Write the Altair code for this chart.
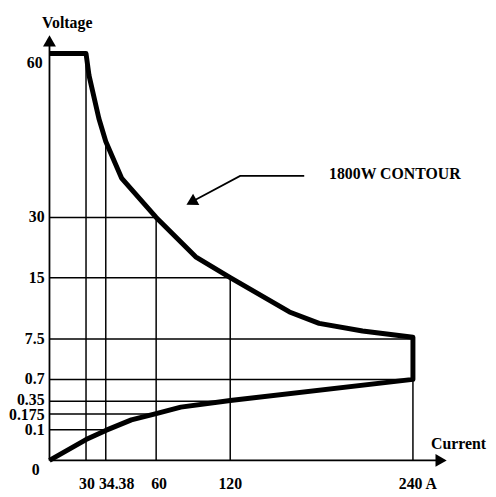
import altair as alt
import pandas as pd

# ---- data ----
# contour: upper (power-limited) branch then lower branch
UPPER_I = [0, 30, 30.66, 32.85, 34.38, 42.4, 60, 92, 120, 158.9, 178.4, 206.9, 240, 240]
UPPER_V = [60, 60, 56.0, 48.1, 43.9, 37.2, 30, 20.2, 15, 10.8, 9.4, 8.47, 7.7, 0.7]
LOWER_I = [240, 120, 80, 60, 47.4, 34.38, 30, 0]
LOWER_V = [0.7, 0.36, 0.269, 0.18, 0.147, 0.098, 0.068, 0]

# non-linear (piecewise) axis breakpoints
X_BREAKS = [0, 30, 34.38, 60, 120, 240]
Y_BREAKS = [0, 0.1, 0.175, 0.35, 0.7, 7.5, 15, 30, 60]

X_TICKS = [30, 34.38, 60, 120, 240]
X_TICK_LABELS = ["30", "34.38", "60", "120", "240 A"]
X_GRID_TOP = [60, 43.9, 30, 15, 7.5]

Y_TICKS = [0.1, 0.175, 0.35, 0.7, 7.5, 15, 30]
Y_TICK_LABELS = ["0.1", "0.175", "0.35", "0.7", "7.5", "15", "30"]
Y_GRID_END = [34.38, 60, 120, 240, 240, 120, 60]

# ---- layout (pixel range of each breakpoint inside the plot area) ----
X_RANGE = [42, 79, 99, 150, 225, 410]
Y_RANGE = [455, 424, 408, 395, 373, 332, 270, 209, 43]
X_LABEL_SHIFT = [1, 11, 3, 0, 5]
Y_LABEL_SHIFT = [0, 1.5, -1.5, 0, 0, 0, 0]

xs = alt.Scale(domain=X_BREAKS, range=X_RANGE, zero=False, nice=False)
ys = alt.Scale(domain=Y_BREAKS, range=Y_RANGE, zero=False, nice=False)

FONT = "Liberation Serif"
FS = 16


def X(f="i"):
    return alt.X(f"{f}:Q", scale=xs, axis=None)


def Y(f="v"):
    return alt.Y(f"{f}:Q", scale=ys, axis=None)


contour = pd.DataFrame({
    "i": UPPER_I + LOWER_I,
    "v": UPPER_V + LOWER_V,
    "o": list(range(len(UPPER_I) + len(LOWER_I))),
})

vgrid = pd.DataFrame({"i": X_TICKS, "v0": [0] * len(X_TICKS), "v1": X_GRID_TOP})
hgrid = pd.DataFrame({"v": Y_TICKS, "i0": [0] * len(Y_TICKS), "i1": Y_GRID_END})

axes_df = pd.DataFrame({"i": [0, 0], "i2": [0, 258], "v": [0, 0], "v2": [62.5, 0]})

contour_line = alt.Chart(contour).mark_line(
    color="black", strokeWidth=5, strokeJoin="round"
).encode(x=X(), y=Y(), order="o:Q")

vlines = alt.Chart(vgrid).mark_rule(color="black", strokeWidth=1.5).encode(
    x=X(), y=Y("v0"), y2="v1:Q"
)
hlines = alt.Chart(hgrid).mark_rule(color="black", strokeWidth=1.5).encode(
    y=Y(), x=X("i0"), x2="i1:Q"
)
axis_lines = alt.Chart(axes_df).mark_rule(color="black", strokeWidth=1.8).encode(
    x=X(), x2="i2:Q", y=Y(), y2="v2:Q"
)

arrow_heads = alt.Chart(pd.DataFrame({
    "i": [0, 258.5, 88.5],
    "v": [62.3, 0, 32.8],
    "shape": ["triangle-up", "triangle-right", "triangle-up"],
    "ang": [0, 0, 241],
})).mark_point(filled=True, color="black", opacity=1, size=170).encode(
    x=X(), y=Y(),
    shape=alt.Shape("shape:N", scale=None),
    angle=alt.Angle("ang:Q", scale=None),
)

annot_line = alt.Chart(pd.DataFrame({
    "i": [168.6, 126.5, 90.0], "v": [37.6, 37.6, 33.0], "o": [0, 1, 2]
})).mark_line(color="black", strokeWidth=1.8).encode(x=X(), y=Y(), order="o:Q")


def text_layer(df, **kw):
    return alt.Chart(df).mark_text(
        font=FONT, fontSize=FS, fontWeight="bold", color="black", **kw
    ).encode(x=X(), y=Y(), text="t:N")


ylabel_layers = [
    text_layer(pd.DataFrame({"v": [yv], "t": [tx], "i": [0]}),
               align="right", baseline="middle", dx=-5, dy=sh)
    for yv, tx, sh in zip(Y_TICKS, Y_TICK_LABELS, Y_LABEL_SHIFT)
]
ylabel60 = text_layer(pd.DataFrame({"v": [60], "t": ["60"], "i": [0]}),
                      align="right", baseline="middle", dx=-7, dy=10)
ylabel0 = text_layer(pd.DataFrame({"v": [0], "t": ["0"], "i": [0]}),
                     align="right", baseline="middle", dx=-10, dy=10)

xlabel_layers = [
    text_layer(pd.DataFrame({"i": [xv], "t": [tx], "v": [0]}),
               align="center", baseline="middle", dx=sh, dy=24)
    for xv, tx, sh in zip(X_TICKS, X_TICK_LABELS, X_LABEL_SHIFT)
]

voltage_t = text_layer(pd.DataFrame({"i": [14.6], "v": [65.6], "t": ["Voltage"]}),
                       align="center", baseline="middle")
current_t = text_layer(pd.DataFrame({"i": [270.0], "v": [0.052], "t": ["Current"]}),
                       align="center", baseline="middle")
contour_t = text_layer(pd.DataFrame({"i": [184.9], "v": [37.9], "t": ["1800W CONTOUR"]}),
                       align="left", baseline="middle")

chart = alt.layer(
    vlines, hlines, axis_lines, contour_line, annot_line, arrow_heads,
    *ylabel_layers, ylabel60, ylabel0, *xlabel_layers, voltage_t, current_t, contour_t,
).properties(
    width=486, height=488,
    autosize=alt.AutoSizeParams(type="none"),
    padding={"left": 0, "top": 0, "right": 0, "bottom": 0},
).configure_view(stroke=None)

chart.save("out.html", embed_options={"renderer": "svg", "actions": False})
